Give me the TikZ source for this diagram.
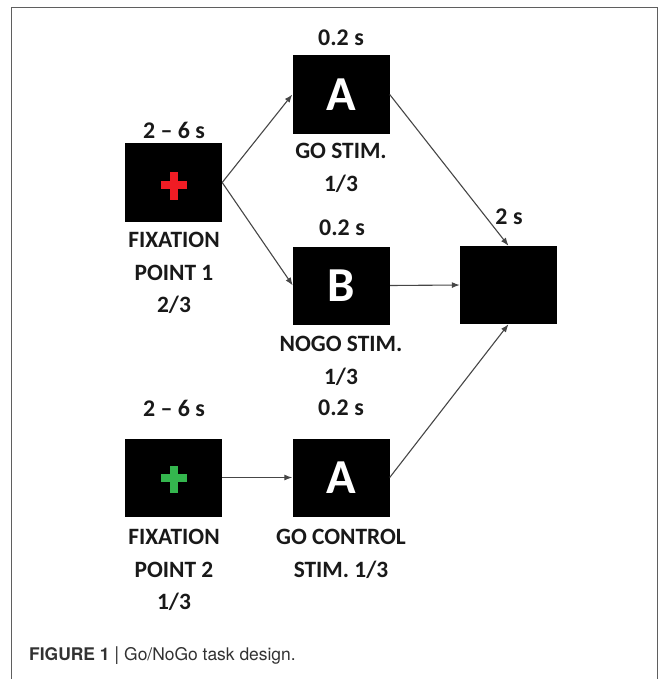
\documentclass[tikz,border=0pt]{standalone}
\usepackage{fontspec}
\setmainfont{Carlito}
\newfontfamily\capfont{TeX Gyre Heros}
\usetikzlibrary{arrows.meta}
\definecolor{crossred}{RGB}{240,28,36}
\definecolor{crossgreen}{RGB}{52,182,78}
\definecolor{framegray}{RGB}{95,95,95}
\definecolor{linegray}{RGB}{70,70,70}
\definecolor{txt}{RGB}{25,25,25}
\definecolor{captxt}{RGB}{50,50,50}
\begin{document}
\begin{tikzpicture}[x=1bp,y=-1bp,
  scr/.style={fill=black,draw=none,minimum width=97bp,minimum height=78bp,inner sep=0pt,
    text=white,font=\fontsize{49}{49}\selectfont\bfseries},
  tlab/.style={text=txt,inner sep=0pt,font=\fontsize{24}{24}\selectfont\bfseries},
  dlab/.style={text=txt,inner sep=0pt,align=center,font=\fontsize{23.5}{32.5}\selectfont\bfseries},
  conn/.style={draw=linegray,line width=1.1bp,-{Latex[length=8bp,width=6bp]}}
]
\useasboundingbox (0,0) rectangle (669,679);
\draw[framegray,line width=1.4bp] (11.5,690) -- (11.5,7.5) -- (657.5,7.5) -- (657.5,690);

% screens
\node[scr] (F1) at (173.5,182.5) {};
\node[scr] (GA) at (341,94.5) {\raisebox{-4bp}{A}};
\node[scr] (NB) at (341.5,285.5) {\raisebox{-4bp}{B}};
\node[scr] (FB) at (508.5,285) {};
\node[scr] (F2) at (173.5,477.5) {};
\node[scr] (CA) at (341,477.5) {\raisebox{-4bp}{A}};

% crosses
\fill[crossred] ([shift={(-13,-1.5)}]F1.center) rectangle ([shift={(13,6.5)}]F1.center);
\fill[crossred] ([shift={(-4,-11)}]F1.center) rectangle ([shift={(4,17)}]F1.center);
\fill[crossgreen] ([shift={(-13,-3.5)}]F2.center) rectangle ([shift={(13,4.5)}]F2.center);
\fill[crossgreen] ([shift={(-4,-12)}]F2.center) rectangle ([shift={(4,15)}]F2.center);

% time labels
\node[tlab] (t1) at (174,130) {2 -- 6 s};
\node[tlab] (t2) at (341,38) {0.2 s};
\node[tlab] (t3) at (342,228) {0.2 s};
\node[tlab] (t4) at (509,217) {2 s};
\node[tlab] (t5) at (174,408) {2 -- 6 s};
\node[tlab] (t6) at (341,408) {0.2 s};

% descriptions
\node[dlab] (d1) at (174,273) {FIXATION\\POINT 1\\2/3};
\node[dlab] (d2) at (341,168) {GO STIM.\\1/3};
\node[dlab] (d3) at (341,361) {NOGO STIM.\\1/3};
\node[dlab] (d5) at (174,570) {FIXATION\\POINT 2\\1/3};
\node[dlab] (d6) at (341,554) {GO CONTROL\\STIM. 1/3};

% connectors
\draw[conn] (F1.east) -- (GA.west);
\draw[conn] (F1.east) -- (NB.west);
\draw[conn] (GA.east) -- (FB.north);
\draw[conn] (NB.east) -- (FB.west);
\draw[conn] (CA.east) -- (FB.south);
\draw[conn] (F2.east) -- (CA.west);

% caption
\node[anchor=base west,inner sep=0pt,text=captxt,font=\capfont\fontsize{17.5}{17.5}\selectfont] (cap) at (29,660)
  {\textbf{FIGURE 1} {\fontsize{19}{19}\selectfont|} Go/NoGo task design.};
\end{tikzpicture}
\end{document}
